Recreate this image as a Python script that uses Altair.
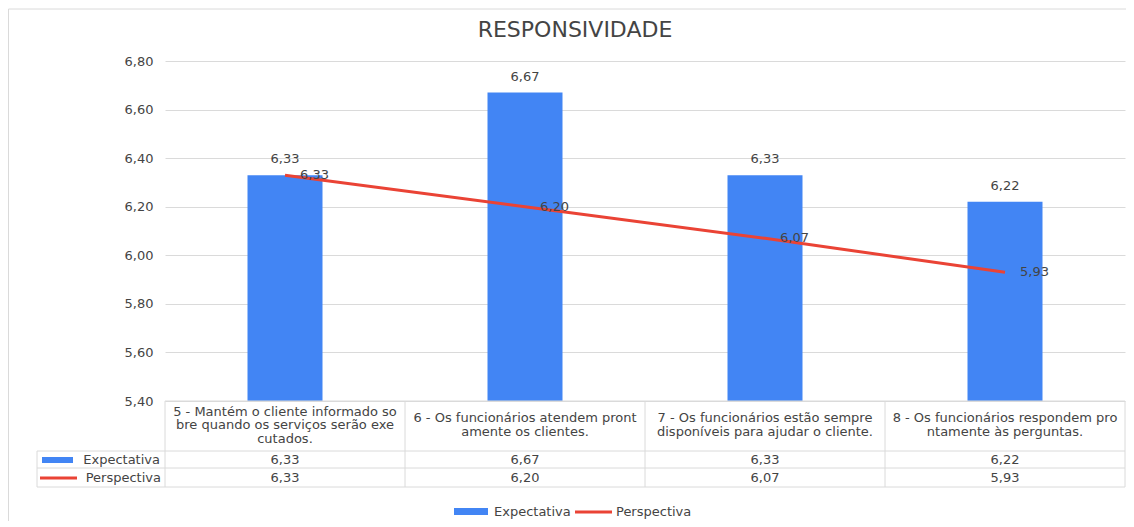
import altair as alt
import pandas as pd

# ---- data ----
categorias = [
    "5 - Mantém o cliente informado so\nbre quando os serviços serão exe\ncutados.",
    "6 -  Os funcionários atendem pront\namente os clientes.",
    "7 -  Os funcionários estão sempre\ndisponíveis para ajudar o cliente.",
    "8 - Os funcionários respondem pro\nntamente às perguntas.",
]
expectativa = [6.33, 6.67, 6.33, 6.22]
perspectiva = [6.33, 6.20, 6.07, 5.93]
y_ticks = [5.4, 5.6, 5.8, 6.0, 6.2, 6.4, 6.6, 6.8]
series = ["Expectativa", "Perspectiva"]
colors = ["#4285F4", "#EA4335"]
titulo = "RESPONSIVIDADE"

df = pd.DataFrame({"cat": categorias, "exp": expectativa, "per": perspectiva})
one = pd.DataFrame({"k": [0]})

W, H = 960, 340
FONT = "DejaVu Sans"
TXT = "#444444"
LINE = "#dadada"
FMT = "replace(format({v}, '.2f'), '.', ',')"
LH = 13.5  # header line height

xscale = alt.Scale(domain=categorias, paddingInner=0, paddingOuter=0)
x = alt.X("cat:N", sort=categorias, scale=xscale, axis=None)
yscale = alt.Scale(domain=[5.4, 6.8], nice=False, zero=False)

base = alt.Chart(df)

bars = base.mark_bar(size=75, color=colors[0]).encode(
    x=x,
    y=alt.Y(
        "exp:Q",
        scale=yscale,
        title=None,
        axis=alt.Axis(
            values=y_ticks,
            labelExpr=FMT.format(v="datum.value"),
            grid=True,
            gridColor=LINE,
            domain=False,
            ticks=False,
            labelPadding=12,
            labelFont=FONT,
            labelFontSize=13,
            labelColor=TXT,
        ),
    ),
    y2=alt.datum(5.4),
)

line = base.mark_line(color=colors[1], strokeWidth=3).encode(
    x=x, y=alt.Y("per:Q", scale=yscale)
)

bar_labels = base.transform_calculate(lbl=FMT.format(v="datum.exp")).mark_text(
    dy=-16, font=FONT, fontSize=13, color=TXT, baseline="middle"
).encode(x=x, y=alt.Y("exp:Q", scale=yscale), text="lbl:N")

line_labels = base.transform_calculate(lbl=FMT.format(v="datum.per")).mark_text(
    dx=15, align="left", font=FONT, fontSize=13, color=TXT, baseline="middle"
).encode(x=x, y=alt.Y("per:Q", scale=yscale), text="lbl:N")

# ---- data table under the plot ----
# header cell text is centred vertically in the header row (centre at 364 px)
hdr = base.transform_calculate(
    hy=f"364 - (length(split(datum.cat, '\\n')) - 1) * {LH} / 2"
).mark_text(
    lineBreak="\n", lineHeight=LH, baseline="middle", font=FONT, fontSize=13, color=TXT
).encode(x=x, y=alt.Y("hy:Q", scale=None, axis=None), text="cat:N")

row_exp = base.transform_calculate(lbl=FMT.format(v="datum.exp")).mark_text(
    baseline="middle", font=FONT, fontSize=13, color=TXT
).encode(x=x, y=alt.value(399), text="lbl:N")

row_per = base.transform_calculate(lbl=FMT.format(v="datum.per")).mark_text(
    baseline="middle", font=FONT, fontSize=13, color=TXT
).encode(x=x, y=alt.value(417), text="lbl:N")

vlines = base.mark_rule(color=LINE, strokeWidth=1).encode(
    x=alt.X("cat:N", sort=categorias, scale=xscale, axis=None, bandPosition=0),
    y=alt.value(340), y2=alt.value(426),
)

o = alt.Chart(one)
rules = [
    o.mark_rule(color=LINE).encode(x=alt.value(W), y=alt.value(340), y2=alt.value(426)),
    o.mark_rule(color=LINE).encode(x=alt.value(-128), y=alt.value(390), y2=alt.value(426)),
    o.mark_rule(color=LINE).encode(x=alt.value(0), x2=alt.value(W), y=alt.value(340)),
    o.mark_rule(color=LINE).encode(x=alt.value(-128), x2=alt.value(W), y=alt.value(390)),
    o.mark_rule(color=LINE).encode(x=alt.value(-128), x2=alt.value(W), y=alt.value(407)),
    o.mark_rule(color=LINE).encode(x=alt.value(-128), x2=alt.value(W), y=alt.value(426)),
]

s_exp = alt.Chart(pd.DataFrame({"s": [series[0]]}))
s_per = alt.Chart(pd.DataFrame({"s": [series[1]]}))

tbl_leg = [
    s_exp.mark_rect(color=colors[0]).encode(
        x=alt.value(-123), x2=alt.value(-92), y=alt.value(396), y2=alt.value(402)),
    s_exp.mark_text(align="right", baseline="middle", font=FONT, fontSize=13, color=TXT).encode(
        x=alt.value(-5), y=alt.value(399), text="s:N"),
    s_per.mark_rule(color=colors[1], strokeWidth=3).encode(
        x=alt.value(-125), x2=alt.value(-88), y=alt.value(417)),
    s_per.mark_text(align="right", baseline="middle", font=FONT, fontSize=13, color=TXT).encode(
        x=alt.value(-4), y=alt.value(417), text="s:N"),
]

# ---- bottom legend ----
LY = 451
leg = [
    s_exp.mark_rect(color=colors[0]).encode(
        x=alt.value(289), x2=alt.value(323), y=alt.value(LY - 4), y2=alt.value(LY + 3)),
    s_exp.mark_text(align="left", baseline="middle", font=FONT, fontSize=13, color=TXT).encode(
        x=alt.value(329), y=alt.value(LY), text="s:N"),
    s_per.mark_rule(color=colors[1], strokeWidth=3).encode(
        x=alt.value(410), x2=alt.value(447), y=alt.value(LY)),
    s_per.mark_text(align="left", baseline="middle", font=FONT, fontSize=13, color=TXT).encode(
        x=alt.value(451), y=alt.value(LY), text="s:N"),
]

# ---- title and outer frame ----
title = alt.Chart(pd.DataFrame({"t": [titulo]})).mark_text(
    align="center", baseline="middle", font=FONT, fontSize=22, color=TXT
).encode(x=alt.value(410), y=alt.value(-31), text="t:N")

frame = [
    o.mark_rule(color=LINE).encode(x=alt.value(-156.5), x2=alt.value(W + 2), y=alt.value(-52)),
    o.mark_rule(color=LINE).encode(x=alt.value(-156.5), y=alt.value(-52), y2=alt.value(H + 200)),
]

chart = alt.layer(
    *frame, bars, line, bar_labels, line_labels, hdr, row_exp, row_per, vlines,
    *rules, *tbl_leg, *leg, title,
).properties(
    width=W,
    height=H,
    autosize=alt.AutoSizeParams(type="none"),
    padding={"left": 157, "top": 53, "right": 1, "bottom": 120},
).configure(
    background="white",
    view=alt.ViewConfig(stroke=None),
)

chart.save("out.html", embed_options={"renderer": "svg", "actions": False})
